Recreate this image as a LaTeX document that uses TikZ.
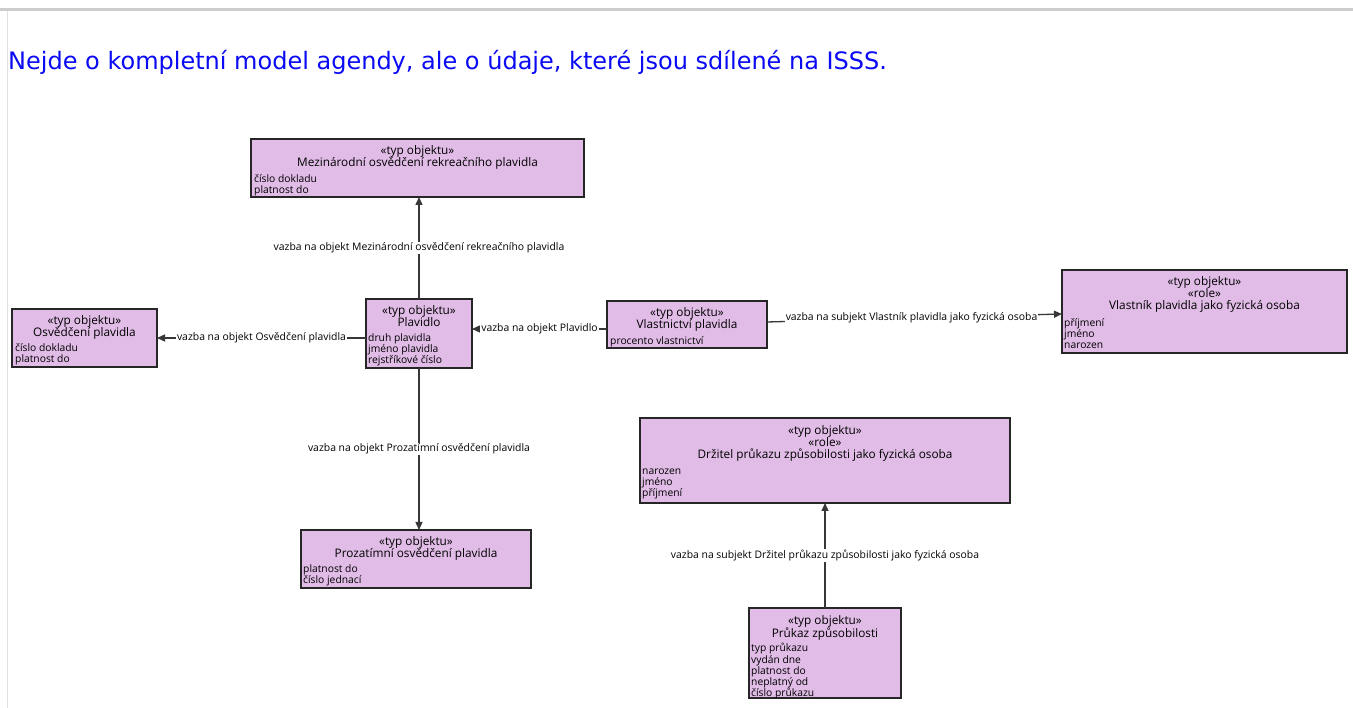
\documentclass[tikz,border=0pt]{standalone}
\usepackage{fontspec}
\newfontfamily\dia{Open Sans}
\newfontfamily\ttl{DejaVu Sans}
\usetikzlibrary{arrows.meta}
\definecolor{boxfill}{RGB}{224,188,230}
\definecolor{edgecol}{RGB}{55,55,55}
\definecolor{ttlblue}{RGB}{10,10,245}
\begin{document}
\begin{tikzpicture}[x=1pt,y=-1pt,
  box/.style={draw=black!85, line width=1.6pt, fill=boxfill, anchor=north west, inner sep=0pt, outer sep=0pt},
  hdr/.style={font=\dia\fontsize{11.8}{12}\selectfont, align=center, inner sep=0pt, anchor=north},
  att/.style={font=\dia\fontsize{10.3}{11}\selectfont, align=left, inner sep=0pt, anchor=north west},
  lbl/.style={font=\dia\fontsize{10.4}{11}\selectfont, fill=white, inner sep=1pt},
  conn/.style={draw=edgecol, line width=1.3pt, -{Triangle[length=8pt,width=7pt]}}]

\useasboundingbox (0,0) rectangle (1353,708);
\fill[white] (0,0) rectangle (1353,708);
\fill[black!20] (0,8) rectangle (1353,11.5);
\draw[black!12, line width=1pt] (7,11.5) -- (7,708);
\node[anchor=west, text=ttlblue, font=\ttl\fontsize{24}{26}\selectfont, inner sep=0pt] (title) at (8,62) {Nejde o kompletní model agendy, ale o údaje, které jsou sdílené na ISSS.};

% boxes
\node[box, minimum width=333pt, minimum height=58pt] (mez) at (251,139) {};
\node[hdr] (mezh) at ([yshift=-6pt]mez.north) {«typ objektu»\\Mezinárodní osvědčení rekreačního plavidla};
\node[att, xshift=3pt, yshift=-5pt] (meza) at (mez.west |- mezh.south) {číslo dokladu\\platnost do};

\node[box, minimum width=145pt, minimum height=58pt] (osv) at (12,309) {};
\node[hdr] (osvh) at ([yshift=-6pt]osv.north) {«typ objektu»\\Osvědčení plavidla};
\node[att, xshift=3pt, yshift=-4pt] (osva) at (osv.west |- osvh.south) {číslo dokladu\\platnost do};

\node[box, minimum width=106pt, minimum height=69pt] (plav) at (366,299) {};
\node[hdr] (plavh) at ([yshift=-6pt]plav.north) {«typ objektu»\\Plavidlo};
\node[att, xshift=2pt, yshift=-6.5pt] (plava) at (plav.west |- plavh.south) {druh plavidla\\jméno plavidla\\rejstříkové číslo};

\node[box, minimum width=160pt, minimum height=47pt] (vl) at (607,301) {};
\node[hdr] (vlh) at ([yshift=-6pt]vl.north) {«typ objektu»\\Vlastnictví plavidla};
\node[att, xshift=3pt, yshift=-5.5pt] (vla) at (vl.west |- vlh.south) {procento vlastnictví};

\node[box, minimum width=285pt, minimum height=83pt] (vlk) at (1062,270) {};
\node[hdr] (vlkh) at ([yshift=-6pt]vlk.north) {«typ objektu»\\«role»\\Vlastník plavidla jako fyzická osoba};
\node[att, xshift=2pt, yshift=-6.5pt] (vlka) at (vlk.west |- vlkh.south) {příjmení\\jméno\\narozen};

\node[box, minimum width=370pt, minimum height=85pt] (drz) at (640,418) {};
\node[hdr] (drzh) at ([yshift=-7pt]drz.north) {«typ objektu»\\«role»\\Držitel průkazu způsobilosti jako fyzická osoba};
\node[att, xshift=2pt, yshift=-7.5pt] (drza) at (drz.west |- drzh.south) {narozen\\jméno\\příjmení};

\node[box, minimum width=230pt, minimum height=58pt] (proz) at (301,530) {};
\node[hdr] (prozh) at ([yshift=-6pt]proz.north) {«typ objektu»\\Prozatímní osvědčení plavidla};
\node[att, xshift=2pt, yshift=-4pt] (proza) at (proz.west |- prozh.south) {platnost do\\číslo jednací};

\node[box, minimum width=152pt, minimum height=90pt] (pruk) at (749,608) {};
\node[hdr] (prukh) at ([yshift=-7pt]pruk.north) {«typ objektu»\\Průkaz způsobilosti};
\node[att, xshift=2pt, yshift=-2.5pt, font=\dia\fontsize{10.3}{11.3}\selectfont] (pruka) at (pruk.west |- prukh.south) {typ průkazu\\vydán dne\\platnost do\\neplatný od\\číslo průkazu};

% connectors
\draw[conn] (plav.north) -- node[lbl]{vazba na objekt Mezinárodní osvědčení rekreačního plavidla} (plav.north |- mez.south);
\draw[conn] (plav.west |- osv.east) -- node[lbl]{vazba na objekt Osvědčení plavidla} (osv.east);
\coordinate (vlw) at ([yshift=-4.5pt]vl.west);
\draw[conn] (vlw) -- node[lbl]{vazba na objekt Plavidlo} (vlw -| plav.east);
\draw[conn] ([yshift=2.5pt]vl.east) -- node[lbl, pos=0.49]{vazba na subjekt Vlastník plavidla jako fyzická osoba} ([yshift=-2.5pt]vlk.west);
\draw[conn] (plav.south) -- node[lbl]{vazba na objekt Prozatímní osvědčení plavidla} (plav.south |- proz.north);
\draw[conn] (pruk.north) -- node[lbl]{vazba na subjekt Držitel průkazu způsobilosti jako fyzická osoba} (pruk.north |- drz.south);
\end{tikzpicture}
\end{document}
